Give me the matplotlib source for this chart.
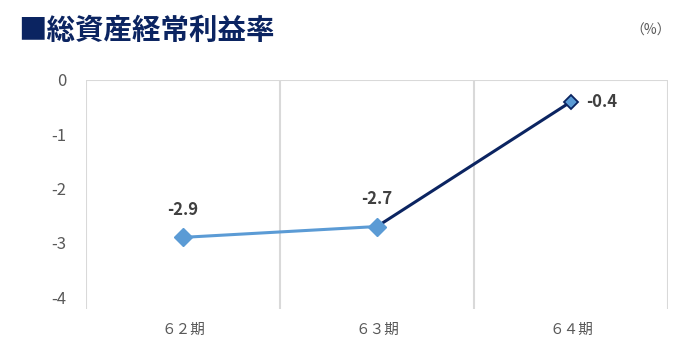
import matplotlib
matplotlib.use("Agg")
import matplotlib.pyplot as plt

plt.rcParams['font.family'] = ['Noto Sans CJK JP', 'DejaVu Sans']

# data
periods = ["６２期", "６３期", "６４期"]
values = [-2.9, -2.7, -0.4]
value_labels = ["-2.9", "-2.7", "-0.4"]
y_ticks = [0, -1, -2, -3, -4]

light_blue = "#5B9BD5"
navy = "#0B2461"
grid_gray = "#D9D9D9"
text_gray = "#595959"

fig = plt.figure(figsize=(6.91, 3.56), dpi=100)
ax = fig.add_axes([86 / 691, 1 - 309 / 356, (668 - 86) / 691, (309 - 80) / 356])

xs = [i + 0.5 for i in range(len(periods))]

# first segment light blue, second segment navy
ax.plot(xs[:2], values[:2], color=light_blue, linewidth=2.2, zorder=3)
ax.plot(xs[1:], values[1:], color=navy, linewidth=2.2, zorder=3)

# markers
ax.plot(xs[:2], values[:2], linestyle="none", marker="D", markersize=9,
        markerfacecolor=light_blue, markeredgecolor=light_blue, zorder=4)
ax.plot(xs[2:], values[2:], linestyle="none", marker="D", markersize=7.5,
        markerfacecolor=light_blue, markeredgecolor=navy, markeredgewidth=1.3, zorder=4)

# data labels
for i, (x, v, lab) in enumerate(zip(xs, values, value_labels)):
    if i < 2:
        ax.annotate(lab, (x, v), xytext=(0, 20), textcoords="offset points",
                    ha="center", va="center", fontsize=12, fontweight="bold", color="#404040")
    else:
        ax.annotate(lab, (x, v), xytext=(11, 0), textcoords="offset points",
                    ha="left", va="center", fontsize=12, fontweight="bold", color="#404040")

ax.set_xlim(0, 3)
ax.set_ylim(-4.22, 0)
ax.set_yticks(y_ticks)
ax.set_yticklabels([str(t) for t in y_ticks])
ax.set_xticks(xs)
ax.set_xticklabels(periods)

# vertical grid lines at category boundaries
for b in range(len(periods) + 1):
    ax.axvline(b, color=grid_gray, linewidth=1.5, zorder=1)
ax.axhline(0, color=grid_gray, linewidth=1.5, zorder=1)

for s in ax.spines.values():
    s.set_visible(False)
ax.tick_params(axis="both", length=0, colors=text_gray, labelsize=12)
ax.tick_params(axis="y", pad=14)
ax.tick_params(axis="x", pad=10, labelsize=10.5)

fig.text(18 / 691, 1 - 31 / 356, "■総資産経常利益率", fontsize=20.5, fontweight="bold",
         color="#0B2461", ha="left", va="center")
fig.text(651 / 691, 1 - 31 / 356, "（%）", fontsize=10, color=text_gray, ha="center", va="center")

fig.savefig("out.png", dpi=100)
